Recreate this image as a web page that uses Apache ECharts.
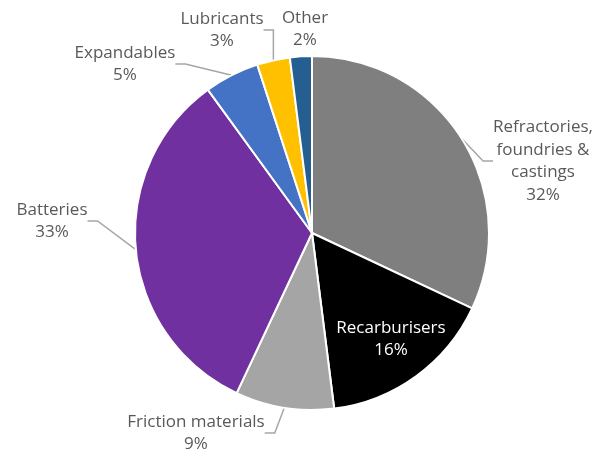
<!DOCTYPE html>
<html>
<head>
<meta charset="utf-8">
<script src="https://cdn.jsdelivr.net/npm/echarts@6/dist/echarts.min.js"></script>
<style>html,body{margin:0;padding:0;background:#fff;}#c{width:594px;height:455px;}</style>
</head>
<body>
<div id="c"></div>
<script>
var categories = ['Refractories,\nfoundries &\ncastings', 'Recarburisers', 'Friction materials', 'Batteries', 'Expandables', 'Lubricants', 'Other'];
var values = [32, 16, 9, 33, 5, 3, 2];
var colors = ['#7f7f7f', '#000000', '#a5a5a5', '#7030a0', '#4472c4', '#ffc000', '#255e91'];
var labelPos = [[543, 161], [391, 339], [196, 433], [52, 221], [125, 64], [222, 30], [305, 29]];

var chart = echarts.init(document.getElementById('c'), null, {renderer: 'canvas'});
var data = categories.map(function (n, i) {
  var item = {name: n, value: values[i], itemStyle: {color: colors[i]}};
  if (i === 1) { item.label = {color: '#ffffff'}; item.labelLine = {show: false}; }
  if (i === 6) { item.labelLine = {show: false}; }
  return item;
});
chart.setOption({
  animation: false,
  series: [{
    type: 'pie',
    center: [312, 233],
    radius: 177,
    startAngle: 90,
    clockwise: true,
    data: data,
    edgeDistance: 0,
    itemStyle: {borderColor: '#ffffff', borderWidth: 2},
    label: {
      show: true,
      position: 'outside',
      formatter: '{b}\n{d}%',
      fontFamily: 'Open Sans',
      fontSize: 17,
      lineHeight: 22.5,
      color: '#595959',
      align: 'center',
      overflow: 'none'
    },
    labelLine: {show: true, length: 10, length2: 10, lineStyle: {color: '#a6a6a6', width: 1.5}},
    labelLayout: function (p) {
      var pos = labelPos[p.dataIndex];
      return {x: pos[0], y: pos[1], align: 'center', verticalAlign: 'middle'};
    }
  }]
});
</script>
</body>
</html>
